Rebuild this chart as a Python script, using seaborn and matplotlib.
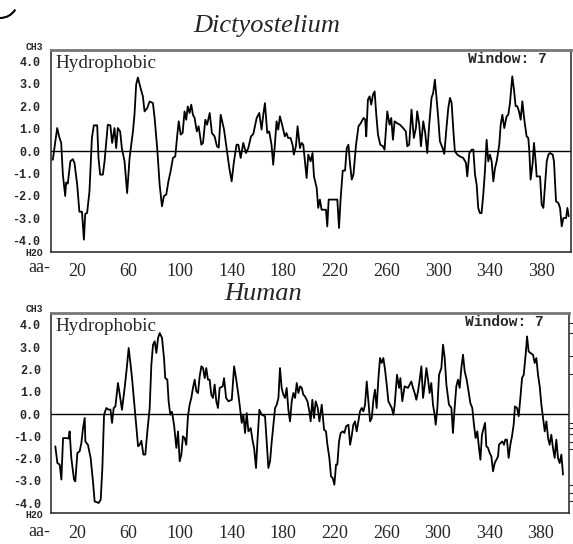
import matplotlib

matplotlib.use("Agg")
import matplotlib.pyplot as plt
import pandas as pd
import seaborn as sns
from matplotlib.patches import Arc


W, H = 573, 544
OUT_FILE = "out.png"

# Dictyostelium hydropathy profile (residue, score)
DICTY_POS = [
    1.4, 4.8, 6.5, 7.9, 9.2, 11.0, 11.7, 13.0, 15.0, 16.9, 18.2, 20.3, 22.0, 24.0, 25.5, 26.5,
    28.0, 29.8, 31.7, 33.2, 35.8, 36.8, 38.1, 40.2, 41.5, 44.0, 46.0, 47.4, 49.2, 50.5, 51.8,
    53.6, 54.9, 57.0, 59.0, 60.9, 63.5, 64.7, 66.0, 67.3, 69.4, 71.2, 72.5, 74.6, 76.4, 79.0,
    80.3, 82.3, 84.2, 86.0, 87.5, 89.3, 91.0, 92.7, 94.5, 96.3, 97.9, 99.0, 100.5, 102.0,
    103.5, 104.8, 106.0, 107.4, 108.7, 110.0, 111.3, 113.0, 114.4, 116.5, 117.8, 119.6, 121.0,
    123.0, 124.7, 126.8, 128.6, 130.0, 131.5, 134.1, 136.1, 138.2, 140.0, 141.8, 143.8, 145.2,
    147.0, 149.0, 151.1, 152.9, 155.0, 156.8, 159.4, 161.4, 163.2, 164.5, 165.8, 167.6, 169.1,
    170.9, 172.2, 173.5, 174.8, 176.1, 177.4, 179.4, 181.2, 182.5, 183.8, 185.6, 187.2, 188.2,
    189.8, 191.1, 192.9, 194.2, 195.5, 196.8, 198.1, 199.4, 201.2, 202.7, 203.8, 205.9, 207.1,
    208.4, 209.7, 213.1, 214.1, 215.2, 221.9, 223.2, 224.5, 226.1, 227.9, 229.2, 230.5, 231.8,
    233.1, 234.4, 236.4, 238.3, 240.1, 242.2, 243.5, 244.3, 245.6, 246.9, 248.2, 249.5, 250.8,
    252.1, 253.4, 255.2, 257.3, 258.5, 260.6, 262.4, 263.7, 265.0, 266.3, 268.1, 270.4, 272.9,
    275.0, 276.1, 277.6, 279.4, 281.2, 282.8, 283.8, 285.4, 286.7, 288.5, 290.0, 291.6, 293.1,
    294.9, 296.2, 297.5, 298.8, 300.1, 301.4, 303.5, 304.8, 306.6, 307.9, 309.2, 310.5, 311.7,
    313.0, 314.9, 316.9, 319.5, 321.6, 322.6, 324.2, 326.0, 327.3, 328.6, 329.9, 331.1, 332.4,
    333.7, 335.0, 336.3, 337.6, 338.9, 340.2, 341.5, 342.8, 344.1, 345.4, 347.4, 348.5, 349.8,
    351.3, 353.1, 354.4, 355.7, 357.5, 358.8, 360.1, 361.4, 362.7, 364.0, 365.3, 366.8, 368.6,
    369.9, 370.7, 371.7, 373.3, 374.3, 375.6, 376.4, 379.0, 380.3, 381.6, 382.9, 384.2, 385.5,
    386.7, 388.8, 389.8, 391.4, 393.2, 394.5, 395.8, 397.1, 399.2, 400.2, 401.2,
]
DICTY_VAL = [
    -0.39, 1.02, 0.60, 0.36, -1.05, -2.00, -1.40, -1.45, -0.46, -0.36, -0.53, -1.50, -2.70, -2.70,
    -3.94, -2.80, -2.75, -1.80, 0.58, 1.14, 1.14, -0.30, -1.05, -1.05, -0.46, 1.17, 1.14, 0.36,
    1.02, 0.13, 1.02, 0.87, 0.13, -0.46, -1.87, -0.31, 0.87, 1.61, 2.95, 3.27, 2.80, 2.43, 1.76,
    1.91, 2.20, 2.13, 1.47, 0.13, -1.50, -2.46, -2.00, -1.94, -1.35, -0.90, -0.31, -0.24, 0.73,
    1.32, 0.73, 0.80, 1.76, 1.39, 1.98, 1.69, 2.06, 1.61, 1.47, 0.87, 1.10, 0.28, 0.36, 1.39,
    1.17, 1.69, 0.80, 0.65, 0.21, 0.15, 1.61, 0.95, 0.13, -0.76, -1.35, -0.46, 0.28, 0.28, -0.31,
    0.36, -0.09, 0.13, 0.65, 0.76, 1.47, 1.69, 0.95, 1.61, 2.13, 0.80, 0.87, 0.28, -0.61, 0.28,
    1.32, 0.95, 1.54, 1.10, 0.65, 0.80, 0.58, 0.58, 0.28, -0.16, 0.21, 1.10, 0.13, 0.36, 0.28,
    -0.46, -1.20, -0.16, -0.46, -0.09, -1.13, -1.64, -2.53, -2.16, -2.61, -2.61, -3.35, -2.16,
    -2.16, -3.42, -2.09, -0.87, -0.87, 0.13, 0.28, -0.61, -1.27, -1.05, 0.28, 1.10, 1.24, 1.47,
    1.40, 0.65, 2.28, 2.43, 2.06, 2.50, 2.65, 1.61, 0.73, 0.28, 0.21, 0.06, 1.76, 1.17, 1.47,
    0.50, 1.32, 1.24, 1.17, 1.02, 0.87, 0.21, 0.28, 1.84, 0.58, 1.02, 1.76, 1.17, 0.21, 1.32,
    0.80, -0.09, 1.17, 2.36, 2.58, 3.17, 2.36, 1.47, 0.43, 0.13, -0.13, 1.10, 1.91, 2.36, 2.13,
    1.02, -0.01, -0.16, -0.24, -0.31, -0.53, -1.13, -0.09, 0.06, 0.06, -1.05, -1.50, -2.53,
    -2.76, -2.76, -1.94, -0.90, 0.50, -0.46, -0.16, -0.46, -1.35, -0.76, -0.46, 0.28, 1.17, 1.61,
    1.02, 1.54, 1.61, 2.13, 3.32, 2.73, 1.99, 1.99, 1.76, 1.39, 2.21, 1.39, 0.65, 0.58, -0.01,
    -1.27, -0.53, 0.36, -0.46, -1.13, -1.13, -2.39, -2.53, -1.50, -0.46, -0.16, -0.09, -0.16,
    -0.46, -2.24, -2.31, -2.53, -3.35, -2.98, -2.98, -2.53, -2.90,
]

# Human hydropathy profile (residue, score)
HUMAN_POS = [
    3.2, 4.8, 6.6, 7.9, 9.2, 11.7, 13.5, 14.3, 15.6, 17.7, 18.7, 20.3, 22.1, 23.4, 24.7, 26.0,
    26.5, 28.5, 30.6, 32.4, 33.7, 36.8, 38.4, 39.7, 41.0, 42.8, 44.6, 46.0, 47.2, 48.5, 49.8,
    51.8, 53.4, 54.9, 57.0, 58.5, 60.1, 61.6, 62.7, 64.2, 66.1, 67.4, 68.6, 70.0, 71.5, 73.0,
    74.6, 76.4, 77.7, 79.0, 80.3, 81.6, 82.9, 84.2, 86.0, 87.5, 88.5, 90.1, 91.1, 92.4, 93.7,
    95.3, 97.1, 98.4, 99.7, 101.0, 102.2, 103.5, 104.8, 106.1, 107.4, 108.7, 110.0, 111.3,
    112.6, 113.9, 115.2, 116.5, 117.8, 119.1, 120.3, 121.6, 122.9, 124.2, 125.5, 126.8, 128.1,
    129.4, 130.7, 133.1, 134.1, 135.7, 137.5, 140.1, 141.9, 143.4, 145.2, 146.5, 147.8, 149.1,
    150.4, 151.7, 153.0, 154.8, 156.1, 157.4, 158.9, 160.0, 161.5, 163.3, 165.9, 167.2, 168.5,
    169.8, 171.1, 172.4, 173.7, 175.0, 176.3, 177.5, 178.8, 180.1, 181.4, 182.7, 184.0, 185.3,
    186.6, 187.9, 189.2, 190.5, 191.8, 193.1, 194.4, 195.6, 196.9, 198.8, 200.3, 201.3, 202.6,
    203.9, 205.2, 206.8, 208.1, 209.9, 211.7, 213.2, 214.3, 215.8, 217.1, 218.4, 219.7, 221.0,
    222.0, 223.3, 224.6, 226.2, 227.5, 228.8, 230.6, 231.9, 233.1, 234.4, 235.7, 237.0, 238.3,
    239.6, 240.9, 242.2, 243.5, 244.8, 246.1, 247.4, 248.7, 250.0, 251.2, 252.5, 253.8, 255.1,
    256.4, 257.7, 259.0, 260.3, 261.6, 262.9, 264.2, 265.5, 266.5, 268.3, 269.9, 270.9, 272.4,
    274.2, 276.8, 278.1, 279.4, 280.7, 282.0, 283.3, 284.6, 285.9, 287.2, 288.5, 289.8, 291.1,
    292.4, 293.6, 294.9, 296.2, 297.5, 298.3, 299.6, 300.9, 302.7, 304.0, 305.3, 306.6, 308.6,
    310.5, 311.7, 313.0, 314.3, 315.6, 316.9, 318.2, 319.5, 320.8, 322.1, 323.4, 325.2, 326.7,
    328.0, 329.3, 330.6, 331.9, 333.0, 334.2, 335.5, 336.6, 337.6, 338.9, 340.2, 341.5, 342.8,
    344.1, 345.4, 346.7, 347.4, 348.7, 350.0, 351.3, 352.3, 353.6, 354.9, 356.2, 357.5, 358.8,
    359.8, 361.4, 362.7, 364.0, 365.3, 366.6, 368.1, 369.2, 370.4, 371.7, 373.8, 375.1, 376.4,
    377.7, 379.0, 380.3, 381.6, 382.9, 384.2, 385.5, 386.7, 388.0, 389.3, 390.6, 391.9, 393.2,
    394.5, 395.8, 397.1,
]
HUMAN_VAL = [
    -1.45, -2.20, -2.27, -2.94, -1.08, -1.08, -1.10, -0.78, -1.97, -2.94, -3.02, -1.75, -1.67,
    -1.30, -0.63, -0.18, -1.23, -1.38, -1.97, -3.02, -3.92, -3.99, -3.84, -2.42, -0.03, 0.27,
    0.19, 0.20, -0.40, 0.27, 0.34, 1.39, 0.79, 0.19, 1.17, 1.99, 2.96, 2.21, 1.61, 0.64, -0.55,
    -1.45, -1.38, -1.20, -1.82, -1.82, -0.78, 0.27, 2.21, 3.11, 3.26, 2.74, 3.41, 3.63, 3.41,
    2.51, 1.61, 1.54, 0.57, -0.03, 0.10, -0.48, -1.52, -0.78, -2.12, -1.82, -1.00, -1.08, -1.38,
    -0.10, 0.42, 0.72, 1.17, 1.54, 1.02, 0.94, 1.69, 2.14, 2.06, 1.61, 2.06, 1.54, 1.54, 0.87,
    0.72, 1.32, 0.57, 0.27, 1.17, 1.24, 1.61, 0.72, 0.57, 0.64, 2.14, 1.61, 0.87, 0.27, -0.40,
    -0.03, -0.85, 0.04, -0.78, -0.63, -1.15, -1.52, -2.42, -1.23, 0.19, -0.03, -0.10, -1.23,
    -2.42, -2.12, -1.23, -0.48, 0.27, 0.42, 0.72, 2.06, 1.17, 0.87, 0.72, 1.17, 0.19, -0.33,
    0.57, 0.94, 0.72, 1.39, 0.94, 1.24, 1.17, 0.87, 0.79, 0.57, 0.12, -0.33, 0.64, -0.18, 0.57,
    0.27, -0.33, 0.42, -0.70, -0.78, -1.38, -1.97, -2.80, -2.87, -3.17, -2.27, -2.27, -1.23,
    -0.85, -0.78, -0.85, -0.55, -0.48, -1.38, -1.00, -0.48, -0.33, -0.78, -0.33, 0.12, 0.27,
    0.12, 0.42, 1.46, 0.57, -0.33, -0.18, 0.64, 1.09, 0.27, 1.54, 2.51, 2.29, 2.51, 1.99, 1.32,
    0.57, 0.42, 0.27, -0.03, 0.42, 1.76, 1.17, 1.61, 0.57, 1.24, 1.17, 1.32, 1.46, 1.17, 0.94,
    0.64, 1.02, 1.54, 2.14, 0.72, 1.32, 2.06, 1.54, 0.94, 1.39, 0.42, -0.03, -0.48, 0.27, 1.76,
    2.06, 3.11, 2.51, 1.32, 0.42, 0.27, -0.85, 0.27, 1.24, 1.54, 1.17, 2.06, 2.66, 1.91, 1.61,
    1.17, 0.49, 0.27, -0.48, -1.08, -0.78, -1.52, -2.05, -0.93, -0.63, -0.40, -1.45, -1.52,
    -1.75, -1.90, -2.57, -2.20, -2.05, -1.90, -1.38, -1.30, -1.23, -1.38, -1.15, -1.15, -1.97,
    -1.38, -1.00, -0.48, 0.34, 0.27, -0.10, 0.72, 1.61, 1.76, 2.66, 3.48, 2.81, 2.74, 2.66, 2.29,
    2.51, 1.76, 1.24, 0.42, -0.18, -0.78, -0.33, -1.08, -1.38, -0.93, -1.52, -1.97, -1.15, -1.97,
    -2.20, -1.82, -2.72,
]

Y_TICKS = [4, 3, 2, 1, 0, -1, -2, -3, -4]
Y_TICK_LABELS = ["4.0", "3.0", "2.0", "1.0", "0.0", "-1.0", "-2.0", "-3.0", "-4.0"]
X_TICKS = [20, 40, 60, 80, 100, 120, 140, 160, 180, 200, 220, 240, 260, 280, 300, 320, 340, 360, 380, 400]
X_TICK_LABELS = ["20", "", "60", "", "100", "", "140", "", "180", "", "220", "", "260", "", "300", "", "340", "", "380", ""]
# stray ticks on the right edge of the lower panel
HUMAN_RIGHT_TICKS = [4.08, 3.63, 2.61, 1.81, -0.40, -0.63, -0.90, -1.27, -1.57, -3.17, -3.54, -3.89]

SERIF = ["Liberation Serif", "DejaVu Serif"]
MONO = ["Liberation Mono", "DejaVu Sans Mono"]


def fx(px):
    return px / W


def fy(py):
    return 1 - py / H


def draw_panel(fig, rect, positions, values, xlim, ylim, tick_pad_x):
    ax = fig.add_axes(rect)
    df = pd.DataFrame({"residue": positions, "score": values})
    sns.lineplot(data=df, x="residue", y="score", color="black", linewidth=1.3,
                 estimator=None, sort=False, ax=ax)
    ax.axhline(0, color="black", linewidth=1.0)
    ax.set_xlim(*xlim)
    ax.set_ylim(*ylim)
    ax.set_xlabel("")
    ax.set_ylabel("")
    ax.set_yticks(Y_TICKS)
    ax.set_yticklabels(Y_TICK_LABELS, family=MONO, fontweight="bold", fontsize=8.5)
    ax.set_xticks(X_TICKS)
    ax.set_xticklabels(X_TICK_LABELS, family=SERIF, fontsize=13)
    ax.tick_params(axis="y", direction="out", length=3, width=1, pad=4.5)
    ax.tick_params(axis="x", direction="out", length=3, width=1, pad=tick_pad_x)
    for side in ["left", "bottom", "right"]:
        ax.spines[side].set_color("#222222")
        ax.spines[side].set_linewidth(1.1)
    ax.spines["top"].set_color("#777777")
    ax.spines["top"].set_linewidth(2.0)
    ax.grid(False)
    return ax


def main():
    sns.set_theme(style="white")
    plt.rcParams["font.family"] = ["DejaVu Sans"]

    fig = plt.figure(figsize=(W / 100, H / 100), dpi=100)

    draw_panel(fig, [fx(51), fy(252), fx(571) - fx(51), fy(50) - fy(252)],
               DICTY_POS, DICTY_VAL, (0, 403), (-4.49, 4.49), 5)
    ax2 = draw_panel(fig, [fx(51.2), fy(513), fx(568.7) - fx(51.2), fy(313) - fy(513)],
                     HUMAN_POS, HUMAN_VAL, (0, 401.5), (-4.44, 4.53), 6)
    sec = ax2.secondary_yaxis("right")
    sec.set_yticks(HUMAN_RIGHT_TICKS)
    sec.set_yticklabels([])
    sec.tick_params(direction="out", length=3, width=0.8)
    sec.spines["right"].set_visible(False)

    # titles
    fig.text(fx(266.5), fy(31.7), "Dictyostelium", ha="center", va="baseline",
             fontsize=19, style="italic", family=SERIF)
    fig.text(fx(263.3), fy(300), "Human", ha="center", va="baseline",
             fontsize=19, style="italic", family=SERIF)

    for base_y, win_x, win_y, ch3_y, h2o_y, aa_y in [
        (68.5, 468, 63, 46.5, 252.8, 268),
        (330.7, 465, 326, 309.5, 515, 532),
    ]:
        fig.text(fx(55), fy(base_y), "Hydrophobic", ha="left", va="baseline",
                 fontsize=13.8, family=SERIF)
        fig.text(fx(win_x), fy(win_y), "Window: 7", ha="left", va="baseline",
                 fontsize=10.5, fontweight="bold", family=MONO)
        fig.text(fx(43), fy(ch3_y), "CH3", ha="right", va="center",
                 fontsize=7, fontweight="bold", family=MONO)
        fig.text(fx(43), fy(h2o_y), "H2O", ha="right", va="center",
                 fontsize=7, fontweight="bold", family=MONO)
        fig.text(fx(50), fy(aa_y), "aa-", ha="right", va="center",
                 fontsize=13, family=SERIF)

    # cropped panel-letter stroke in the corner
    corner = Arc((0, H), 36, 36, theta1=-90, theta2=-32, color="black", linewidth=1.5,
                 transform=None)
    fig.patches.append(corner)

    fig.savefig(OUT_FILE, dpi=100, facecolor="white")
    plt.close(fig)


if __name__ == "__main__":
    main()
